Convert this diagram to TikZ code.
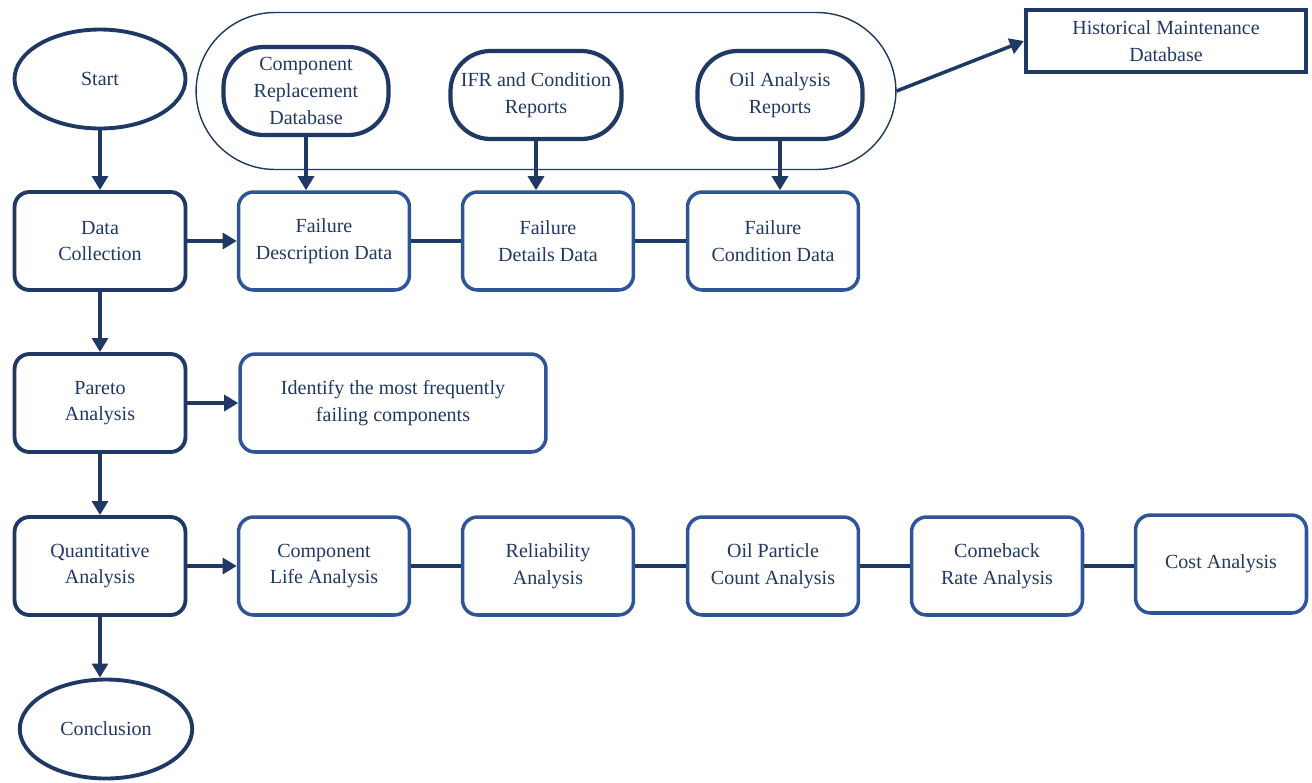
\documentclass[tikz,border=0pt]{standalone}
\usepackage{fontspec}
\setmainfont{Liberation Serif}
\usepackage{tikz}
\usetikzlibrary{arrows.meta,shapes.geometric}

\definecolor{navy}{HTML}{1F3864}
\definecolor{midblue}{HTML}{2F5597}

\tikzset{
  txt/.style={text=navy, align=center, font=\fontsize{11.4}{15.2}\selectfont},
  mainbox/.style={txt, draw=navy, line width=2.2pt, rounded corners=0.3cm,
    minimum width=3.42cm, minimum height=1.96cm},
  subbox/.style={mainbox, draw=midblue, line width=2pt},
  terminal/.style={txt, ellipse, draw=navy, line width=2.2pt,
    minimum width=3.42cm, minimum height=1.98cm},
  source/.style={txt, draw=navy, line width=2.4pt, rounded corners=0.8cm,
    minimum width=3.3cm, minimum height=1.76cm, inner sep=1pt},
  flow/.style={navy, line width=2pt, -{Triangle[length=8pt,width=9pt]}},
  link/.style={navy, line width=2pt},
}

\begin{document}
\begin{tikzpicture}[x=0.02cm, y=-0.02cm]
        \useasboundingbox (0,0) rectangle (1312,782);
        % Main column
        \node[terminal] (start) at (100,79) {Start};
        \node[mainbox] (dc) at (100,241) {Data\\Collection};
        \node[mainbox] (pa) at (100,403) {Pareto\\Analysis};
        \node[mainbox] (qa) at (100,566) {Quantitative\\Analysis};
        \node[terminal, minimum width=3.45cm] (con) at (106,729) {Conclusion};
        % Data sources
        \node[draw=navy, line width=0.8pt, rounded corners=1.58cm,
          minimum width=14cm, minimum height=3.14cm] (srcs) at (546,91) {};
        \node[source] (crd) at (306,91) {Component\\Replacement\\Database};
        \node[source, minimum width=3.42cm] (ifr) at (536,95) {IFR and Condition\\Reports};
        \node[source] (oar) at (780,95) {Oil Analysis\\Reports};
        \node[txt, draw=navy, line width=2.4pt, minimum width=5.6cm,
          minimum height=1.24cm] (hmd) at (1166,41) {Historical Maintenance\\Database};
        % Data row
        \node[subbox] (fdd) at (324,241) {Failure\\Description Data};
        \node[subbox] (fdt) at (548,241) {Failure\\Details Data};
        \node[subbox] (fcd) at (773,241) {Failure\\Condition Data};
        % Pareto row
        \node[subbox, minimum width=6.12cm] (ifc) at (393,403) {Identify the most frequently\\failing components};
        % Analysis row
        \node[subbox] (cla) at (324,566) {Component\\Life Analysis};
        \node[subbox] (rel) at (548,566) {Reliability\\Analysis};
        \node[subbox] (opc) at (773,566) {Oil Particle\\Count Analysis};
        \node[subbox] (cra) at (997,566) {Comeback\\Rate Analysis};
        \node[subbox] (cost) at (1221,564) {Cost Analysis};
        % Vertical arrows
        \draw[flow] (start) -- (dc);
        \draw[flow] (dc) -- (pa);
        \draw[flow] (pa) -- (qa);
        \draw[flow] (qa.south) -- (qa.south |- con.north);
        \draw[flow] (crd.south) -- (crd.south |- fdd.north);
        \draw[flow] (ifr.south) -- (ifr.south |- fdt.north);
        \draw[flow] (oar.south) -- (oar.south |- fcd.north);
        % Horizontal arrows and links
        \draw[flow] (srcs.east) -- (hmd.west);
        \draw[flow] (dc) -- (fdd);
        \draw[link] (fdd) -- (fdt);
        \draw[link] (fdt) -- (fcd);
        \draw[flow] (pa) -- (ifc);
        \draw[flow] (qa) -- (cla);
        \draw[link] (cla) -- (rel);
        \draw[link] (rel) -- (opc);
        \draw[link] (opc) -- (cra);
        \draw[link] (cra.east) -- (cra.east -| cost.west);
\end{tikzpicture}
\end{document}
